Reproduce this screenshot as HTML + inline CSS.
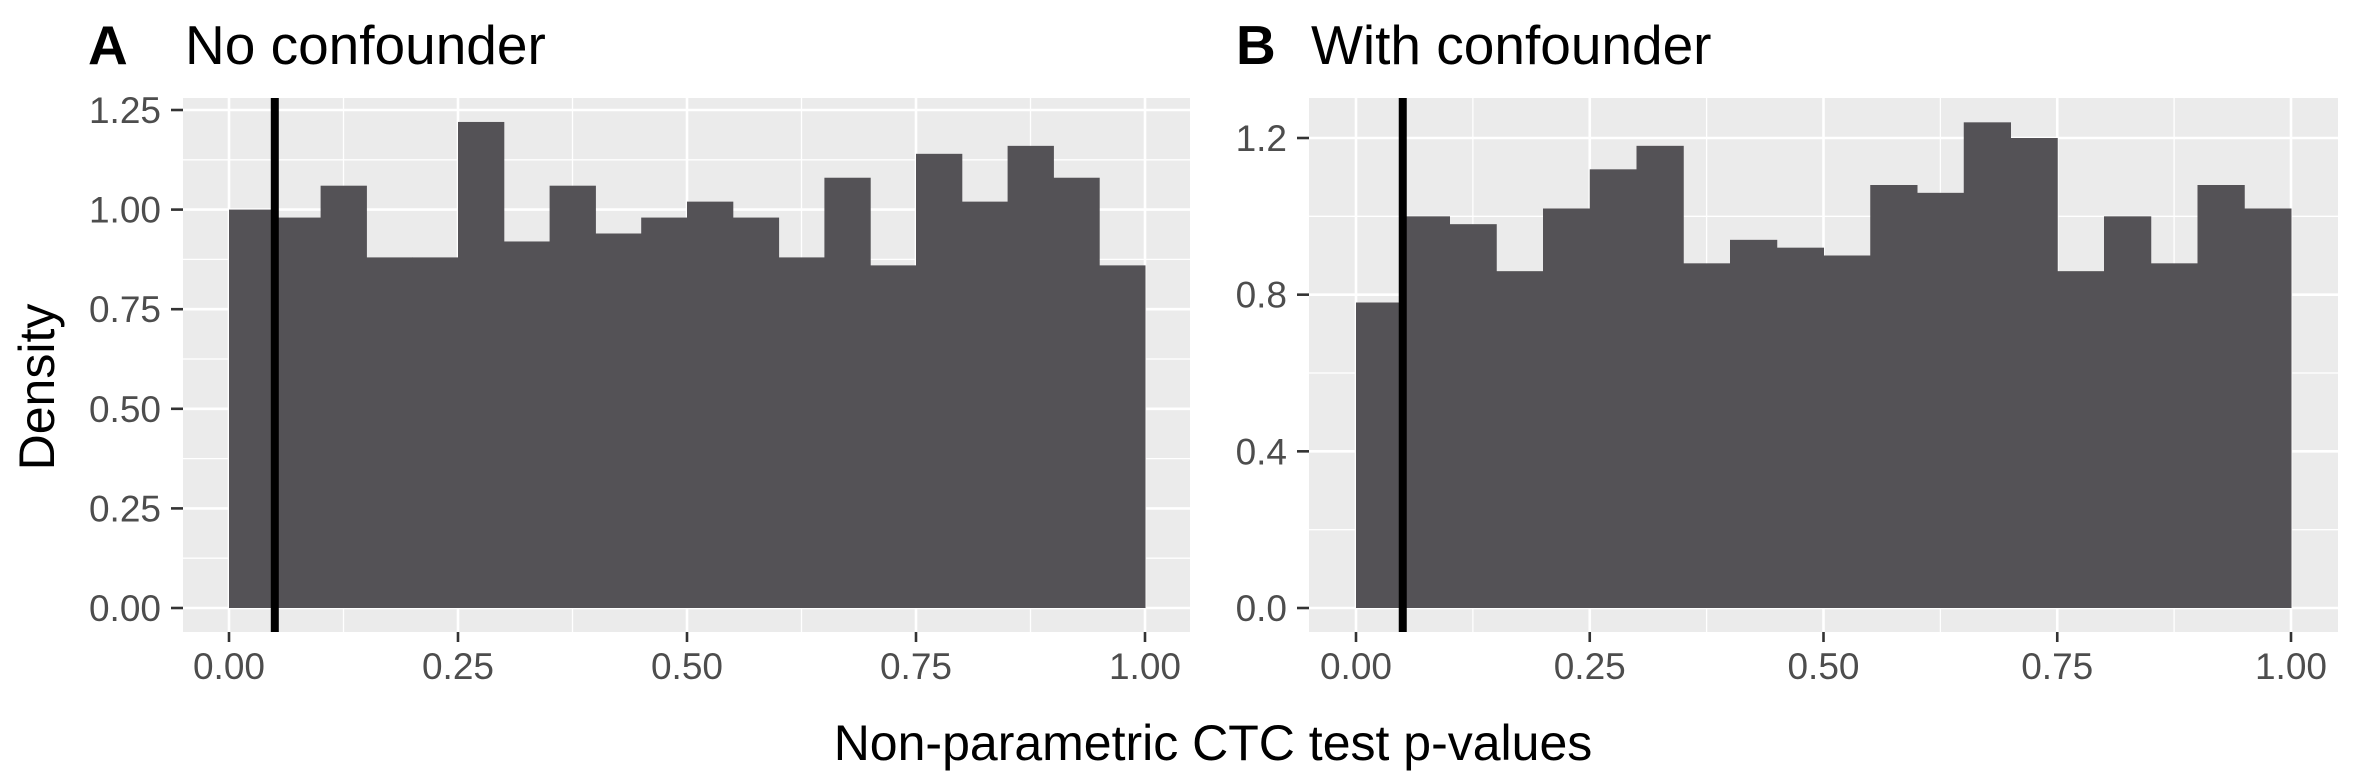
<!DOCTYPE html>
<html><head><meta charset="utf-8"><style>
html,body{margin:0;padding:0;background:#fff;}
svg{display:block;font-family:"Liberation Sans",Arial,sans-serif;}
</style></head><body>
<svg id="chart" width="2362" height="779" viewBox="0 0 2362 779">
<text x="88" y="64" font-size="55" font-weight="bold">A</text>
<text x="185" y="64" font-size="55">No confounder</text>
<text x="1236" y="64" font-size="55" font-weight="bold">B</text>
<text x="1311" y="64" font-size="55">With confounder</text>
<text transform="translate(54,387) rotate(-90)" text-anchor="middle" font-size="50">Density</text>
<text x="1213" y="760" text-anchor="middle" font-size="50">Non-parametric CTC test p-values</text>
<g id="pa"></g>
<g id="pb"></g>
</svg>
<script>
const binsA = [1.00,0.98,1.06,0.88,0.88,1.22,0.92,1.06,0.94,0.98,1.02,0.98,0.88,1.08,0.86,1.14,1.02,1.16,1.08,0.86];
const binsB = [0.78,1.00,0.98,0.86,1.02,1.12,1.18,0.88,0.94,0.92,0.90,1.08,1.06,1.24,1.20,0.86,1.00,0.88,1.08,1.02];
const xTicks = [0,0.25,0.5,0.75,1];
const xTickLabels = ["0.00","0.25","0.50","0.75","1.00"];
const yTicksA = [0,0.25,0.5,0.75,1,1.25];
const yTickLabelsA = ["0.00","0.25","0.50","0.75","1.00","1.25"];
const yTicksB = [0,0.4,0.8,1.2];
const yTickLabelsB = ["0.0","0.4","0.8","1.2"];
const binWidth = 0.05;
const cutoff = 0.05;
const NS="http://www.w3.org/2000/svg";
function mk(parent,tag,attrs){const e=document.createElementNS(NS,tag);for(const k in attrs)e.setAttribute(k,attrs[k]);parent.appendChild(e);return e;}
function panel(g,cfg,bins,yT,yL,prefix){
  const {L,R,T,B,x0px,x1px,y0px,ymaxVal,ymaxPx}=cfg;
  const xs=v=>x0px+v*(x1px-x0px);
  const ys=v=>y0px-v*(y0px-ymaxPx)/ymaxVal;
  const bg=mk(g,'rect',{x:L,y:T,width:R-L,height:B-T,fill:'#ebebeb'});
  
  
  for(let i=0;i<xTicks.length-1;i++){const v=(xTicks[i]+xTicks[i+1])/2;mk(g,'line',{x1:xs(v),x2:xs(v),y1:T,y2:B,stroke:'#fff','stroke-width':1.3});}
  for(let i=0;i<yT.length;i++){const v=yT[i]+(yT[1]-yT[0])/2;const y=ys(v);if(y>T&&y<B)mk(g,'line',{x1:L,x2:R,y1:y,y2:y,stroke:'#fff','stroke-width':1.3});}
  {const v=yT[0]-(yT[1]-yT[0])/2;const y=ys(v);if(y>T&&y<B)mk(g,'line',{x1:L,x2:R,y1:y,y2:y,stroke:'#fff','stroke-width':1.3});}
  xTicks.forEach(v=>mk(g,'line',{x1:xs(v),x2:xs(v),y1:T,y2:B,stroke:'#fff','stroke-width':2.6}));
  yT.forEach(v=>mk(g,'line',{x1:L,x2:R,y1:ys(v),y2:ys(v),stroke:'#fff','stroke-width':2.6}));
  bins.forEach((d,i)=>{
    const r=mk(g,'rect',{x:xs(i*binWidth),y:ys(d),width:xs((i+1)*binWidth)-xs(i*binWidth)+0.5,height:ys(0)-ys(d),fill:'#545256'});
    
    
  });
  const cl=mk(g,'line',{x1:xs(cutoff),x2:xs(cutoff),y1:T,y2:B,stroke:'#000','stroke-width':8});
  
  
  yT.forEach((v,i)=>{
    mk(g,'line',{x1:L-12,x2:L,y1:ys(v),y2:ys(v),stroke:'#333','stroke-width':2.6});
    const t=mk(g,'text',{x:L-22,y:ys(v)+13,'text-anchor':'end','font-size':37,fill:'#4d4d4d'});
    t.textContent=yL[i];
    
    
  });
  xTicks.forEach((v,i)=>{
    mk(g,'line',{x1:xs(v),x2:xs(v),y1:B,y2:B+10,stroke:'#333','stroke-width':2.6});
    const t=mk(g,'text',{x:xs(v),y:679,'text-anchor':'middle','font-size':37,fill:'#4d4d4d'});
    t.textContent=xTickLabels[i];
    
    
  });
}
panel(document.getElementById('pa'),{L:183,R:1190,T:98,B:632,x0px:229,x1px:1145,y0px:608,ymaxVal:1.25,ymaxPx:110},binsA,yTicksA,yTickLabelsA,'panel-a');
panel(document.getElementById('pb'),{L:1309,R:2338,T:98,B:632,x0px:1356,x1px:2291,y0px:608,ymaxVal:1.2,ymaxPx:138},binsB,yTicksB,yTickLabelsB,'panel-b');
</script>
</body></html>
